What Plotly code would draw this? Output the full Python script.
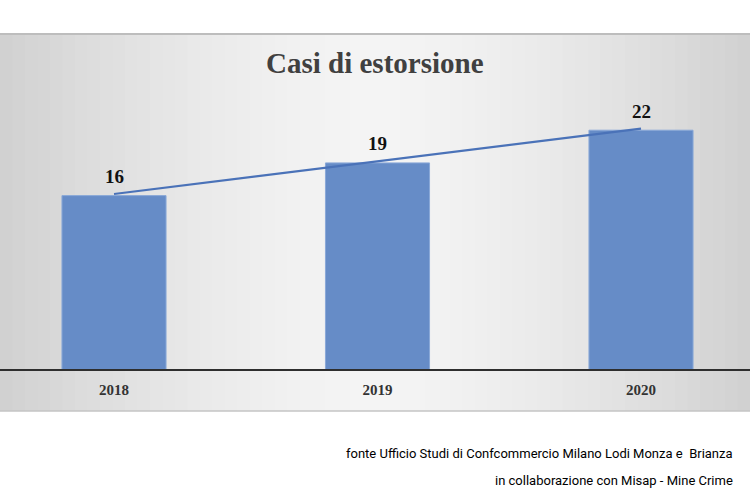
import plotly.graph_objects as go

years = ["2018", "2019", "2020"]
cases = [16, 19, 22]
title_text = "Casi di estorsione"
footer_lines = ["fonte Ufficio Studi di Confcommercio Milano Lodi Monza e  Brianza",
                "in collaborazione con Misap - Mine Crime"]

xpos = list(range(len(years)))

fig = go.Figure()
fig.add_trace(go.Bar(
    x=xpos, y=cases, width=0.395,
    marker=dict(color="#668cc7", line=dict(color="#8aa9d8", width=1)),
    showlegend=False, hoverinfo="skip",
))
fig.add_trace(go.Scatter(
    x=xpos, y=[v + 0.15 for v in cases], mode="lines",
    line=dict(color="#4a72b8", width=2.2), showlegend=False, hoverinfo="skip",
))

# gradient background (vertical stripes)
shapes = []
n = 60
ybot = -(411 - 370) / 336
for i in range(n):
    t = (i + 0.5) / n
    d = abs(t - 0.5) * 2
    v = int(round(244 - 36 * d ** 1.6))
    shapes.append(dict(type="rect", xref="paper", yref="paper",
                       x0=i / n, x1=(i + 1) / n + 0.002, y0=ybot, y1=1.0,
                       fillcolor=f"rgb({v},{v},{v})", line=dict(width=0), layer="below"))
shapes.append(dict(type="line", xref="paper", yref="paper", x0=0, x1=1,
                   y0=1, y1=1, line=dict(color="#bdbdbd", width=2), layer="below"))
shapes.append(dict(type="line", xref="paper", yref="paper", x0=0, x1=1,
                   y0=ybot, y1=ybot, line=dict(color="#c4c4c4", width=1.5), layer="below"))
shapes.append(dict(type="line", xref="paper", yref="paper", x0=0, x1=1,
                   y0=0, y1=0, line=dict(color="#2e2e2e", width=2.2)))

annotations = [
    dict(text=f"<b>{title_text}</b>", xref="paper", yref="paper", x=0.5,
         y=(370 - 63) / 336, xanchor="center", yanchor="middle", showarrow=False,
         font=dict(family="Liberation Serif", size=29, color="#404040")),
    dict(text=footer_lines[0], xref="paper", yref="paper", x=735 / 750,
         y=-(453 - 370) / 336, xanchor="right", yanchor="middle", showarrow=False,
         font=dict(family="Roboto", size=13, color="#000000")),
    dict(text=footer_lines[1], xref="paper", yref="paper", x=735 / 750,
         y=-(480 - 370) / 336, xanchor="right", yanchor="middle", showarrow=False,
         font=dict(family="Roboto", size=13, color="#000000")),
]
for xi, v in zip(xpos, cases):
    annotations.append(dict(text=f"<b>{v}</b>", x=xi, y=v, xref="x", yref="y",
                            yanchor="middle", yshift=19, showarrow=False,
                            font=dict(family="Liberation Serif", size=19, color="#111111")))

px_per_cat = 263.5
x0 = -114 / px_per_cat
x1 = (750 - 114) / px_per_cat
px_per_unit = 10.9

fig.update_layout(
    width=750, height=500,
    margin=dict(l=0, r=0, t=34, b=130),
    paper_bgcolor="white", plot_bgcolor="rgba(0,0,0,0)",
    shapes=shapes, annotations=annotations,
    xaxis=dict(range=[x0, x1], tickmode="array", tickvals=xpos,
               ticktext=[f"<b>{y}</b>" for y in years],
               tickfont=dict(family="Liberation Serif", size=15, color="#333333"),
               showgrid=False, zeroline=False, showline=False, ticks="",
               ticklabelstandoff=9, fixedrange=True),
    yaxis=dict(range=[0, 336 / px_per_unit], visible=False, fixedrange=True),
)

fig.write_html("out.html")
